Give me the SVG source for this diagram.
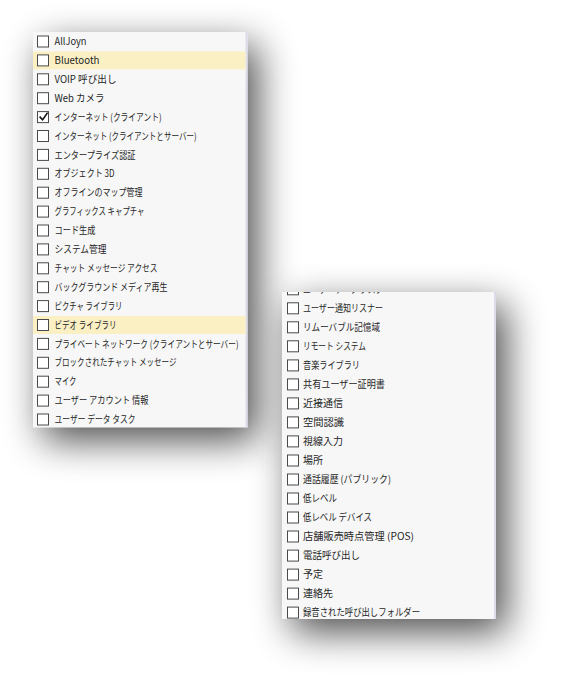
<svg xmlns="http://www.w3.org/2000/svg" width="562" height="685" viewBox="0 0 562 685">
<style>
.t{font-family:"Noto Sans CJK JP","Noto Sans",sans-serif;font-size:10px;fill:#262626}
.cb{fill:#fff;stroke:#4a4a4a;stroke-width:1}
.hl{fill:#fbf0c4}
.panel{fill:#f7f7f7}
.edge{fill:#dcdce8}
.ck{fill:none;stroke:#111;stroke-width:1.6;stroke-linejoin:miter}
</style>
<defs>
<filter id="sh" x="-50%" y="-40%" width="200%" height="180%">
<feGaussianBlur in="SourceAlpha" stdDeviation="19"/>
<feOffset dx="10" dy="13" result="b"/>
<feComponentTransfer><feFuncA type="linear" slope="0.7"/></feComponentTransfer>
</filter>
<clipPath id="rc"><rect x="282" y="292" width="214" height="327"/></clipPath>
</defs>
<rect width="562" height="685" fill="#fff"/>
<g id="panel-left">
<rect x="33" y="32" width="214.5" height="395.5" fill="#000" filter="url(#sh)"/>
<rect class="panel" x="33" y="32" width="214.5" height="395.5"/>
<rect class="edge" x="245.5" y="32" width="2" height="395.5"/>
<rect class="hl" x="33" y="51.4" width="212.5" height="18"/>
<rect class="hl" x="33" y="316" width="212.5" height="18"/>
<g id="l0"><rect class="cb" x="37.5" y="36" width="11" height="11"/><text class="t" x="54.5" y="45.1" textLength="32" lengthAdjust="spacingAndGlyphs">AllJoyn</text></g>
<g id="l1"><rect class="cb" x="37.5" y="54.9" width="11" height="11"/><text class="t" x="54.5" y="64" textLength="45" lengthAdjust="spacingAndGlyphs">Bluetooth</text></g>
<g id="l2"><rect class="cb" x="37.5" y="73.8" width="11" height="11"/><text class="t" x="54.5" y="82.9" textLength="62" lengthAdjust="spacingAndGlyphs">VOIP 呼び出し</text></g>
<g id="l3"><rect class="cb" x="37.5" y="92.7" width="11" height="11"/><text class="t" x="54.5" y="101.8" textLength="50" lengthAdjust="spacingAndGlyphs">Web カメラ</text></g>
<g id="l4"><rect class="cb" x="37.5" y="111.6" width="11" height="11"/><path class="ck" d="M39.6 116.6 L42.6 119.8 L47.6 112.6"/><text class="t" x="54.5" y="120.7" textLength="107" lengthAdjust="spacingAndGlyphs">インターネット (クライアント)</text></g>
<g id="l5"><rect class="cb" x="37.5" y="130.5" width="11" height="11"/><text class="t" x="54.5" y="139.6" textLength="142" lengthAdjust="spacingAndGlyphs">インターネット (クライアントとサーバー)</text></g>
<g id="l6"><rect class="cb" x="37.5" y="149.4" width="11" height="11"/><text class="t" x="54.5" y="158.5" textLength="81" lengthAdjust="spacingAndGlyphs">エンタープライズ認証</text></g>
<g id="l7"><rect class="cb" x="37.5" y="168.3" width="11" height="11"/><text class="t" x="54.5" y="177.4" textLength="60" lengthAdjust="spacingAndGlyphs">オブジェクト 3D</text></g>
<g id="l8"><rect class="cb" x="37.5" y="187.2" width="11" height="11"/><text class="t" x="54.5" y="196.3" textLength="88" lengthAdjust="spacingAndGlyphs">オフラインのマップ管理</text></g>
<g id="l9"><rect class="cb" x="37.5" y="206.1" width="11" height="11"/><text class="t" x="54.5" y="215.2" textLength="90" lengthAdjust="spacingAndGlyphs">グラフィックス キャプチャ</text></g>
<g id="l10"><rect class="cb" x="37.5" y="225" width="11" height="11"/><text class="t" x="54.5" y="234.1" textLength="41" lengthAdjust="spacingAndGlyphs">コード生成</text></g>
<g id="l11"><rect class="cb" x="37.5" y="243.9" width="11" height="11"/><text class="t" x="54.5" y="253" textLength="52" lengthAdjust="spacingAndGlyphs">システム管理</text></g>
<g id="l12"><rect class="cb" x="37.5" y="262.8" width="11" height="11"/><text class="t" x="54.5" y="271.9" textLength="103" lengthAdjust="spacingAndGlyphs">チャット メッセージ アクセス</text></g>
<g id="l13"><rect class="cb" x="37.5" y="281.7" width="11" height="11"/><text class="t" x="54.5" y="290.8" textLength="113" lengthAdjust="spacingAndGlyphs">バックグラウンド メディア再生</text></g>
<g id="l14"><rect class="cb" x="37.5" y="300.6" width="11" height="11"/><text class="t" x="54.5" y="309.7" textLength="68" lengthAdjust="spacingAndGlyphs">ピクチャ ライブラリ</text></g>
<g id="l15"><rect class="cb" x="37.5" y="319.5" width="11" height="11"/><text class="t" x="54.5" y="328.6" textLength="62" lengthAdjust="spacingAndGlyphs">ビデオ ライブラリ</text></g>
<g id="l16"><rect class="cb" x="37.5" y="338.4" width="11" height="11"/><text class="t" x="54.5" y="347.5" textLength="184" lengthAdjust="spacingAndGlyphs">プライベート ネットワーク (クライアントとサーバー)</text></g>
<g id="l17"><rect class="cb" x="37.5" y="357.3" width="11" height="11"/><text class="t" x="54.5" y="366.4" textLength="122" lengthAdjust="spacingAndGlyphs">ブロックされたチャット メッセージ</text></g>
<g id="l18"><rect class="cb" x="37.5" y="376.2" width="11" height="11"/><text class="t" x="54.5" y="385.3" textLength="22" lengthAdjust="spacingAndGlyphs">マイク</text></g>
<g id="l19"><rect class="cb" x="37.5" y="395.1" width="11" height="11"/><text class="t" x="54.5" y="404.2" textLength="94" lengthAdjust="spacingAndGlyphs">ユーザー アカウント 情報</text></g>
<g id="l20"><rect class="cb" x="37.5" y="414" width="11" height="11"/><text class="t" x="54.5" y="423.1" textLength="81" lengthAdjust="spacingAndGlyphs">ユーザー データ タスク</text></g>
</g>
<g id="panel-right">
<rect x="282" y="292" width="214" height="327" fill="#000" filter="url(#sh)"/>
<rect class="panel" x="282" y="292" width="214" height="327"/>
<rect class="edge" x="494" y="292" width="2" height="327"/>
<g id="r-1" clip-path="url(#rc)"><rect class="cb" x="287.5" y="283.8" width="11" height="11"/><text class="t" x="303" y="292.9" textLength="80" lengthAdjust="spacingAndGlyphs">ユーザー データ タスク</text></g>
<g id="r0"><rect class="cb" x="287.5" y="302.8" width="11" height="11"/><text class="t" x="303" y="311.9" textLength="80" lengthAdjust="spacingAndGlyphs">ユーザー通知リスナー</text></g>
<g id="r1"><rect class="cb" x="287.5" y="321.8" width="11" height="11"/><text class="t" x="303" y="330.9" textLength="77" lengthAdjust="spacingAndGlyphs">リムーバブル記憶域</text></g>
<g id="r2"><rect class="cb" x="287.5" y="340.8" width="11" height="11"/><text class="t" x="303" y="349.9" textLength="63" lengthAdjust="spacingAndGlyphs">リモート システム</text></g>
<g id="r3"><rect class="cb" x="287.5" y="359.9" width="11" height="11"/><text class="t" x="303" y="369" textLength="57" lengthAdjust="spacingAndGlyphs">音楽ライブラリ</text></g>
<g id="r4"><rect class="cb" x="287.5" y="378.9" width="11" height="11"/><text class="t" x="303" y="388" textLength="82" lengthAdjust="spacingAndGlyphs">共有ユーザー証明書</text></g>
<g id="r5"><rect class="cb" x="287.5" y="397.9" width="11" height="11"/><text class="t" x="303" y="407" textLength="40" lengthAdjust="spacingAndGlyphs">近接通信</text></g>
<g id="r6"><rect class="cb" x="287.5" y="416.9" width="11" height="11"/><text class="t" x="303" y="426" textLength="41" lengthAdjust="spacingAndGlyphs">空間認識</text></g>
<g id="r7"><rect class="cb" x="287.5" y="435.9" width="11" height="11"/><text class="t" x="303" y="445" textLength="40" lengthAdjust="spacingAndGlyphs">視線入力</text></g>
<g id="r8"><rect class="cb" x="287.5" y="455" width="11" height="11"/><text class="t" x="303" y="464.1" textLength="20" lengthAdjust="spacingAndGlyphs">場所</text></g>
<g id="r9"><rect class="cb" x="287.5" y="474" width="11" height="11"/><text class="t" x="303" y="483.1" textLength="88" lengthAdjust="spacingAndGlyphs">通話履歴 (パブリック)</text></g>
<g id="r10"><rect class="cb" x="287.5" y="493" width="11" height="11"/><text class="t" x="303" y="502.1" textLength="34" lengthAdjust="spacingAndGlyphs">低レベル</text></g>
<g id="r11"><rect class="cb" x="287.5" y="512" width="11" height="11"/><text class="t" x="303" y="521.1" textLength="69" lengthAdjust="spacingAndGlyphs">低レベル デバイス</text></g>
<g id="r12"><rect class="cb" x="287.5" y="531" width="11" height="11"/><text class="t" x="303" y="540.1" textLength="111" lengthAdjust="spacingAndGlyphs">店舗販売時点管理 (POS)</text></g>
<g id="r13"><rect class="cb" x="287.5" y="550.1" width="11" height="11"/><text class="t" x="303" y="559.2" textLength="57" lengthAdjust="spacingAndGlyphs">電話呼び出し</text></g>
<g id="r14"><rect class="cb" x="287.5" y="569.1" width="11" height="11"/><text class="t" x="303" y="578.2" textLength="20" lengthAdjust="spacingAndGlyphs">予定</text></g>
<g id="r15"><rect class="cb" x="287.5" y="588.1" width="11" height="11"/><text class="t" x="303" y="597.2" textLength="30" lengthAdjust="spacingAndGlyphs">連絡先</text></g>
<g id="r16"><rect class="cb" x="287.5" y="607.1" width="11" height="11"/><text class="t" x="303" y="616.2" textLength="117" lengthAdjust="spacingAndGlyphs">録音された呼び出しフォルダー</text></g>
</g>
<g id="connectors"/>
</svg>
